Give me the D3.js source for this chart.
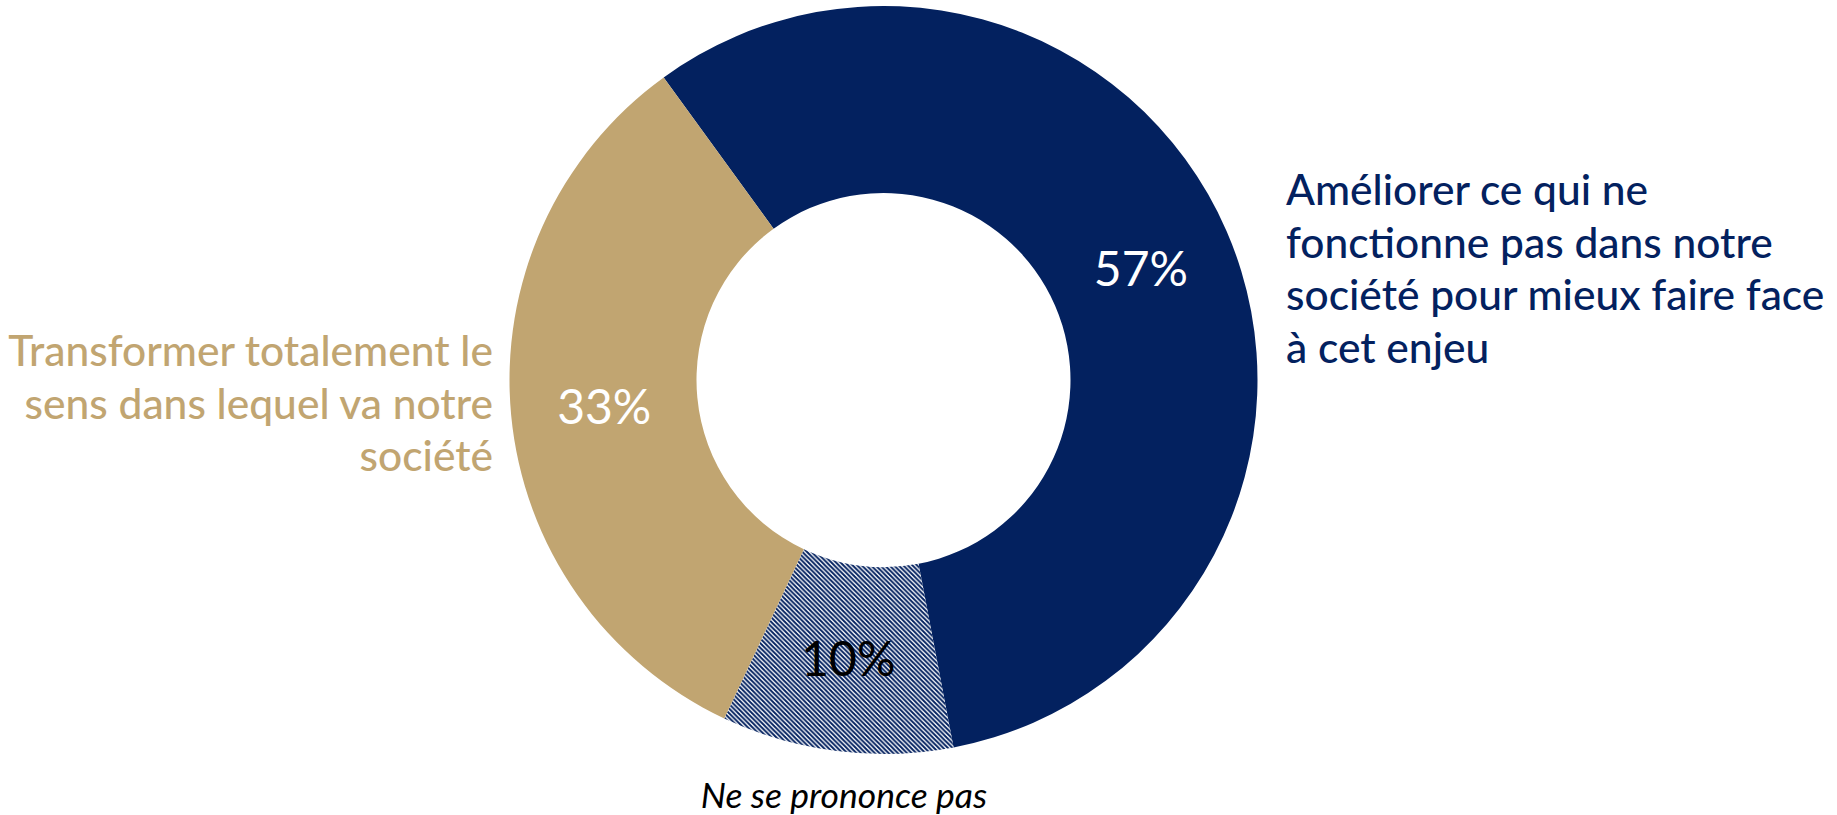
<!DOCTYPE html>
<html>
<head>
<meta charset="utf-8">
<script src="https://cdn.jsdelivr.net/npm/d3@7"></script>
<style>
  body { margin: 0; background: #fff; }
  svg { display: block; }
</style>
</head>
<body>
<div id="chart"></div>
<script>
const categories = [
    'Améliorer ce qui ne fonctionne pas dans notre société pour mieux faire face à cet enjeu',
    'Ne se prononce pas',
    'Transformer totalement le sens dans lequel va notre société'
]
const values = [57, 10, 33]
const valueLabels = ['57%', '10%', '33%']
const labelLines = [
    ['Améliorer ce qui ne', 'fonctionne pas dans notre', 'société pour mieux faire face', 'à cet enjeu'],
    ['Ne se prononce pas'],
    ['Transformer totalement le', 'sens dans lequel va notre', 'société']
]

const width = 1837
const height = 815
const center = { x: 883.5, y: 380 }
const outerR = 374
const innerR = 187
const navy = '#03215f'
const tan = '#c1a571'

const svg = d3.select('#chart')
    .append('svg')
    .attr('width', width)
    .attr('height', height)

// hatch for the "no answer" slice
const defs = svg.append('defs')
const pat = defs.append('pattern')
    .attr('id', 'hatch')
    .attr('patternUnits', 'userSpaceOnUse')
    .attr('width', 4.6)
    .attr('height', 4.6)
pat.append('rect').attr('width', 4.6).attr('height', 4.6).attr('fill', '#fff')
pat.append('path')
    .attr('d', 'M-1,-1 L5.6,5.6 M-1,3.6 L1,5.6 M3.6,-1 L5.6,1')
    .attr('stroke', navy)
    .attr('stroke-width', 1.9)

const fills = [navy, 'url(#hatch)', tan]
const textColors = ['#fff', '#000', '#fff']

const pie = d3.pie()
    .sort(null)
    .value(d => d)
    .startAngle(-36 * Math.PI / 180)
    .endAngle(324 * Math.PI / 180)

const arc = d3.arc()
    .innerRadius(innerR)
    .outerRadius(outerR)

const g = svg.append('g')
    .attr('transform', 'translate(' + center.x + ',' + center.y + ')')

const arcs = pie(values)

g.selectAll('path.slice')
    .data(arcs)
    .enter()
    .append('path')
    .attr('class', 'slice')
    .attr('d', arc)
    .attr('fill', (d, i) => fills[i])

g.selectAll('text.pct')
    .data(arcs)
    .enter()
    .append('text')
    .attr('class', 'pct')
    .attr('transform', d => 'translate(' + arc.centroid(d) + ')')
    .attr('dy', '0.36em')
    .attr('text-anchor', 'middle')
    .attr('font-family', 'Lato, sans-serif')
    .attr('font-weight', 400)
    .attr('font-size', 48)
    .attr('fill', (d, i) => textColors[i])
    .text((d, i) => valueLabels[i])

// category labels
const right = svg.append('text')
    .attr('font-family', 'Lato, sans-serif')
    .attr('font-weight', 500)
    .attr('font-size', 42.5)
    .attr('fill', navy)
    .attr('text-anchor', 'start')
right.selectAll('tspan')
    .data(labelLines[0])
    .enter()
    .append('tspan')
    .attr('x', 1286)
    .attr('y', (d, i) => 205 + i * 52.5)
    .text(d => d)

const left = svg.append('text')
    .attr('font-family', 'Lato, sans-serif')
    .attr('font-weight', 500)
    .attr('font-size', 42.5)
    .attr('fill', tan)
    .attr('text-anchor', 'end')
left.selectAll('tspan')
    .data(labelLines[2])
    .enter()
    .append('tspan')
    .attr('x', 493)
    .attr('y', (d, i) => 366 + i * 52.5)
    .text(d => d)

svg.append('text')
    .attr('x', 844)
    .attr('y', 808)
    .attr('text-anchor', 'middle')
    .attr('font-family', 'Lato, sans-serif')
    .attr('font-style', 'italic')
    .attr('font-size', 35.5)
    .attr('fill', '#000')
    .text(labelLines[1][0])
</script>
</body>
</html>
